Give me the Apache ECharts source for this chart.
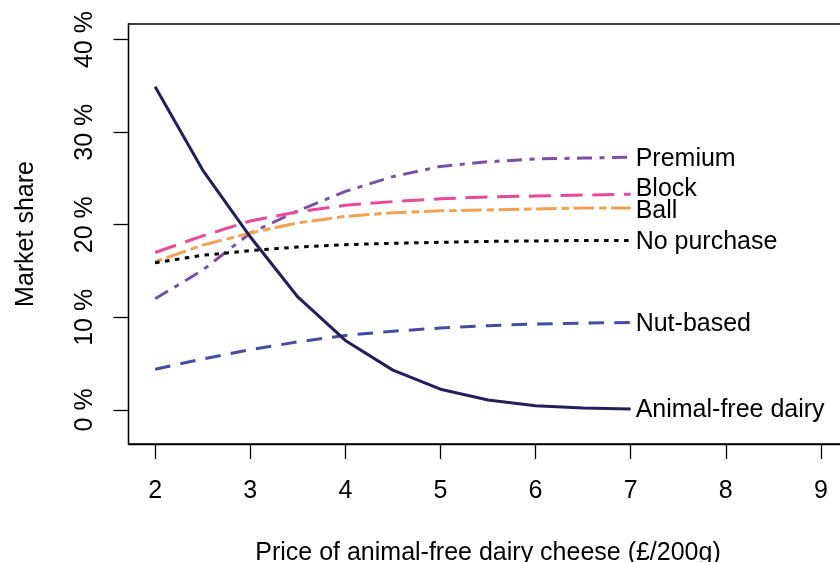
<!DOCTYPE html>
<html>
<head>
<meta charset="utf-8">
<script src="https://cdn.jsdelivr.net/npm/echarts@6/dist/echarts.min.js"></script>
<style>
html,body{margin:0;padding:0;background:#fff;}
#chart{width:840px;height:562px;}
</style>
</head>
<body>
<div id="chart"></div>
<script>
// Data
const prices = [2, 2.5, 3, 3.5, 4, 4.5, 5, 5.5, 6, 6.5, 7];
const seriesNames = ['Premium', 'Block', 'Ball', 'No purchase', 'Nut-based', 'Animal-free dairy'];
const premium       = [12.0, 15.1, 19.1, 21.5, 23.6, 25.2, 26.3, 26.8, 27.1, 27.2, 27.3];
const block         = [17.0, 18.8, 20.4, 21.4, 22.1, 22.5, 22.8, 23.0, 23.1, 23.2, 23.3];
const ball          = [16.0, 17.8, 19.1, 20.2, 20.9, 21.3, 21.5, 21.6, 21.7, 21.8, 21.8];
const noPurchase    = [15.9, 16.7, 17.2, 17.6, 17.85, 18.0, 18.1, 18.2, 18.25, 18.3, 18.3];
const nutBased      = [4.4, 5.5, 6.5, 7.35, 8.05, 8.5, 8.85, 9.1, 9.28, 9.38, 9.45];
const animalFree    = [34.9, 25.9, 18.7, 12.2, 7.5, 4.3, 2.24, 1.08, 0.45, 0.22, 0.1];
// label anchor positions (x, y in data units)
const labelX = [7, 7, 7, 7, 7, 7];
const labelY = [27.3, 24.0, 21.6, 18.3, 9.45, 0.14];
// axis ticks
const xTicks = [2, 3, 4, 5, 6, 7, 8, 9];
const yTicks = [0, 10, 20, 30, 40];

const FONT = 'Liberation Sans, Arial, Helvetica, sans-serif';
const pair = arr => arr.map((v, i) => [prices[i], v]);

const styles = [
  {data: premium,    color: '#7B4FA8', type: [15, 7.5, 5, 7.5]},
  {data: block,      color: '#EA489B', type: [22, 9.7]},
  {data: ball,       color: '#F6A152', type: [7.5, 4.5, 20.5, 5]},
  {data: noPurchase, color: '#000000', type: [4.5, 5.5]},
  {data: nutBased,   color: '#3F4FA8', type: [15.5, 10.2]},
  {data: animalFree, color: '#231E5C', type: 'solid'}
];

const series = styles.map((s, i) => ({
  name: seriesNames[i],
  type: 'line',
  data: pair(s.data),
  showSymbol: false,
  symbol: 'none',
  smooth: false,
  lineStyle: {color: s.color, width: 3, type: s.type, cap: 'butt'},
  z: 2 + i,
  silent: true
}));

series.push({
  type: 'scatter',
  symbol: 'circle',
  symbolSize: 0,
  silent: true,
  itemStyle: {opacity: 1, color: '#000'},
  data: seriesNames.map((n, i) => ({value: [labelX[i], labelY[i]], name: n})),
  label: {
    show: true,
    position: 'right',
    distance: 5,
    offset: [0, 1.5],
    opacity: 1,
    formatter: p => p.name,
    fontFamily: FONT,
    fontSize: 25,
    color: '#000'
  },
  z: 10
});

const chart = echarts.init(document.getElementById('chart'), null, {renderer: 'canvas'});
chart.setOption({
  animation: false,
  backgroundColor: '#fff',
  grid: {
    left: 128.5, top: 24, width: 719, height: 420,
    show: true, borderColor: '#000', borderWidth: 1.3,
    containLabel: false, outerBoundsMode: 'none'
  },
  xAxis: {
    type: 'value', min: 1.72, max: 9.28,
    name: 'Price of animal-free dairy cheese (£/200g)',
    nameLocation: 'middle', nameGap: 97,
    nameTextStyle: {fontFamily: FONT, fontSize: 25, color: '#000'},
    axisLine: {show: true, onZero: false, lineStyle: {color: '#000', width: 1.3}},
    axisTick: {show: true, length: 15, lineStyle: {color: '#000', width: 1.3}, customValues: xTicks},
    axisLabel: {fontFamily: FONT, fontSize: 25, color: '#000', margin: 35, customValues: xTicks,
      formatter: v => String(v)},
    splitLine: {show: false}
  },
  yAxis: {
    type: 'value', min: -3.68, max: 41.68,
    name: 'Market share',
    nameLocation: 'middle', nameGap: 90,
    nameTextStyle: {fontFamily: FONT, fontSize: 25, color: '#000'},
    axisLine: {show: true, onZero: false, lineStyle: {color: '#000', width: 1.3}},
    axisTick: {show: true, length: 15, lineStyle: {color: '#000', width: 1.3}, customValues: yTicks},
    axisLabel: {fontFamily: FONT, fontSize: 25, color: '#000', margin: 31, rotate: 90, customValues: yTicks,
      formatter: v => v + ' %'},
    splitLine: {show: false}
  },
  series: series
});
</script>
</body>
</html>
